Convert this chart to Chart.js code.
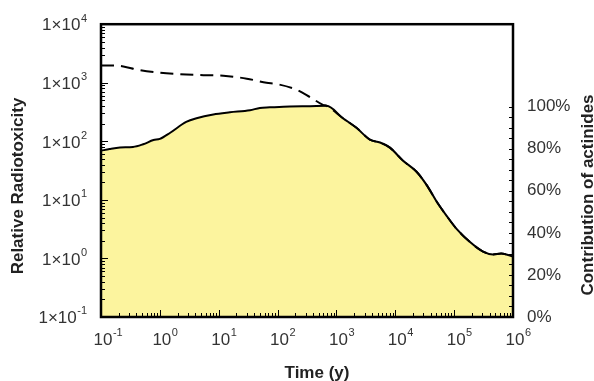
<!DOCTYPE html>
<html>
<head>
<meta charset="utf-8">
<script src="https://cdn.jsdelivr.net/npm/chart.js@4.4.1/dist/chart.umd.min.js"></script>
<style>
  html, body { margin: 0; padding: 0; background: #fff; }
  #wrap { width: 594px; height: 381px; }
</style>
</head>
<body>
<div id="wrap"><canvas id="toxChart" width="594" height="381"></canvas></div>
<script>
// time in years
const actinideTime = [0.1, 0.14, 0.21, 0.35, 0.52, 0.78, 1, 1.5, 2.8, 4.2, 8.1, 15.5, 34, 50, 74, 162, 355, 680,
  1290, 2190, 3700, 5500, 8100, 13500, 23000, 34000, 50000, 74000, 110000, 184000, 310000, 457000, 630000, 1000000];
// relative radiotoxicity of actinides (filled area)
const actinideTox = [69, 74, 78.5, 80, 89, 105, 110, 140, 214, 248, 288, 313, 339, 372, 380, 394, 398, 403,
  248, 170, 107, 95.5, 78, 46.8, 30.2, 18, 9.5, 5.4, 3.2, 1.92, 1.31, 1.17, 1.21, 1.08];

// total radiotoxicity (dashed)
const totalTime = [0.1, 0.17, 0.24, 0.43, 1, 2.2, 5.5, 12, 30, 65, 95, 210, 355, 590, 680,
  1290, 2190, 3700, 5500, 8100, 13500, 23000, 34000, 50000, 74000, 110000, 184000, 310000, 457000, 630000, 1000000];
const totalTox = [1970, 1970, 1900, 1660, 1480, 1400, 1350, 1320, 1175, 1000, 955, 760, 570, 420, 403,
  248, 170, 107, 95.5, 78, 46.8, 30.2, 18, 9.5, 5.4, 3.2, 1.92, 1.31, 1.17, 1.21, 1.08];

// small contribution hugging the bottom
const minorTime = [0.1, 3, 10, 30, 60, 100, 300, 1000, 30000, 100000, 200000, 1000000];
const minorTox = [0.1, 0.1, 0.104, 0.108, 0.108, 0.104, 0.1, 0.1, 0.1, 0.104, 0.1, 0.1];

const xTickExps = [-1, 0, 1, 2, 3, 4, 5, 6];
const leftTickExps = [-1, 0, 1, 2, 3, 4];
const rightTickValues = [0, 20, 40, 60, 80, 100];

const FONT = '"Liberation Sans", Arial, sans-serif';

function toPoints(xs, ys) {
  return xs.map((x, i) => ({ x: x, y: ys[i] }));
}

function drawPower(ctx, base, exp, x, y, fs) {
  ctx.font = fs + 'px ' + FONT;
  ctx.fillText(base, x, y);
  const w = ctx.measureText(base).width;
  ctx.font = Math.round(fs * 0.65) + 'px ' + FONT;
  ctx.fillText(exp, x + w + 0.5, y - fs * 0.42);
}

const framePlugin = {
  id: 'framePlugin',
  afterDraw(chart) {
    const ctx = chart.ctx;
    const a = chart.chartArea;
    const xs = chart.scales.x, ys = chart.scales.y, y2 = chart.scales.y2;
    ctx.save();
    ctx.strokeStyle = '#000';
    ctx.lineWidth = 1;
    ctx.beginPath();
    // inside ticks, log x axis
    for (let e = -1; e <= 5; e++) {
      for (let m = 1; m <= 9; m++) {
        const px = Math.round(xs.getPixelForValue(m * Math.pow(10, e))) + 0.5;
        const len = m === 1 ? 7 : 4;
        ctx.moveTo(px, a.bottom);
        ctx.lineTo(px, a.bottom - len);
      }
    }
    // inside ticks, left log axis
    for (let e = -1; e <= 3; e++) {
      for (let m = 1; m <= 9; m++) {
        const py = Math.round(ys.getPixelForValue(m * Math.pow(10, e))) + 0.5;
        const len = m === 1 ? 7 : 4;
        ctx.moveTo(a.left, py);
        ctx.lineTo(a.left + len, py);
      }
    }
    // inside ticks, right axis every 5%
    for (let v = 0; v <= 100; v += 5) {
      const py = Math.round(y2.getPixelForValue(v)) + 0.5;
      ctx.moveTo(a.right, py);
      ctx.lineTo(a.right - 4, py);
    }
    ctx.stroke();

    // frame
    ctx.lineWidth = 2.5;
    ctx.strokeRect(a.left, a.top, a.right - a.left, a.bottom - a.top);

    // x tick labels with superscripts
    ctx.fillStyle = '#333';
    ctx.textBaseline = 'middle';
    ctx.textAlign = 'left';
    xTickExps.forEach(e => {
      const px = xs.getPixelForValue(Math.pow(10, e));
      ctx.font = '17px ' + FONT;
      const w = ctx.measureText('10').width;
      drawPower(ctx, '10', String(e), px + 2 - w / 2, 340, 17);
    });
    // left tick labels
    leftTickExps.forEach(e => {
      const py = ys.getPixelForValue(Math.pow(10, e));
      ctx.font = '17px ' + FONT;
      const wb = ctx.measureText('1×10').width;
      ctx.font = '11px ' + FONT;
      const we = ctx.measureText(String(e)).width;
      drawPower(ctx, '1×10', String(e), 87 - wb - we - 0.5, py + 1.5, 17);
    });

    // axis titles
    ctx.fillStyle = '#222';
    ctx.font = 'bold 17px ' + FONT;
    ctx.textAlign = 'center';
    ctx.fillText('Time (y)', 317, 373);
    ctx.save();
    ctx.translate(18, 186);
    ctx.rotate(-Math.PI / 2);
    ctx.fillText('Relative Radiotoxicity', 0, 0);
    ctx.restore();
    ctx.save();
    ctx.translate(588, 195);
    ctx.rotate(-Math.PI / 2);
    ctx.fillText('Contribution of actinides', 0, 0);
    ctx.restore();
    ctx.restore();
  }
};

new Chart(document.getElementById('toxChart'), {
  type: 'line',
  data: {
    datasets: [
      {
        label: 'Total',
        data: toPoints(totalTime, totalTox),
        borderColor: '#000',
        borderWidth: 2,
        borderDash: [13, 7],
        pointRadius: 0,
        fill: false,
        cubicInterpolationMode: 'monotone'
      },
      {
        label: 'Actinides',
        data: toPoints(actinideTime, actinideTox),
        borderColor: '#000',
        borderWidth: 2,
        backgroundColor: 'rgb(252,244,158)',
        pointRadius: 0,
        fill: 'start',
        cubicInterpolationMode: 'monotone'
      },
      {
        label: 'Other',
        data: toPoints(minorTime, minorTox),
        borderColor: '#444',
        borderWidth: 1.5,
        pointRadius: 0,
        fill: false
      }
    ]
  },
  options: {
    responsive: false,
    animation: false,
    layout: { padding: { top: 17, left: 0, right: 0, bottom: 0 } },
    plugins: { legend: { display: false }, tooltip: { enabled: false } },
    scales: {
      x: {
        type: 'logarithmic', min: 0.1, max: 1e6, position: 'bottom',
        grid: { display: false, drawTicks: false },
        border: { display: false },
        ticks: { display: false },
        afterFit(s) { s.height = 64; }
      },
      y: {
        type: 'logarithmic', min: 0.1, max: 1e4, position: 'left',
        grid: { display: false, drawTicks: false },
        border: { display: false },
        ticks: { display: false },
        afterFit(s) { s.width = 101; }
      },
      y2: {
        type: 'linear', min: 0, max: 139.2, position: 'right',
        grid: { display: false, drawTicks: false },
        border: { display: false },
        ticks: {
          color: '#333',
          padding: 14,
          font: { size: 17, family: FONT },
          callback: v => v + '%'
        },
        afterBuildTicks(s) { s.ticks = rightTickValues.map(v => ({ value: v })); },
        afterFit(s) { s.width = 81; }
      }
    }
  },
  plugins: [framePlugin]
});
</script>
</body>
</html>
